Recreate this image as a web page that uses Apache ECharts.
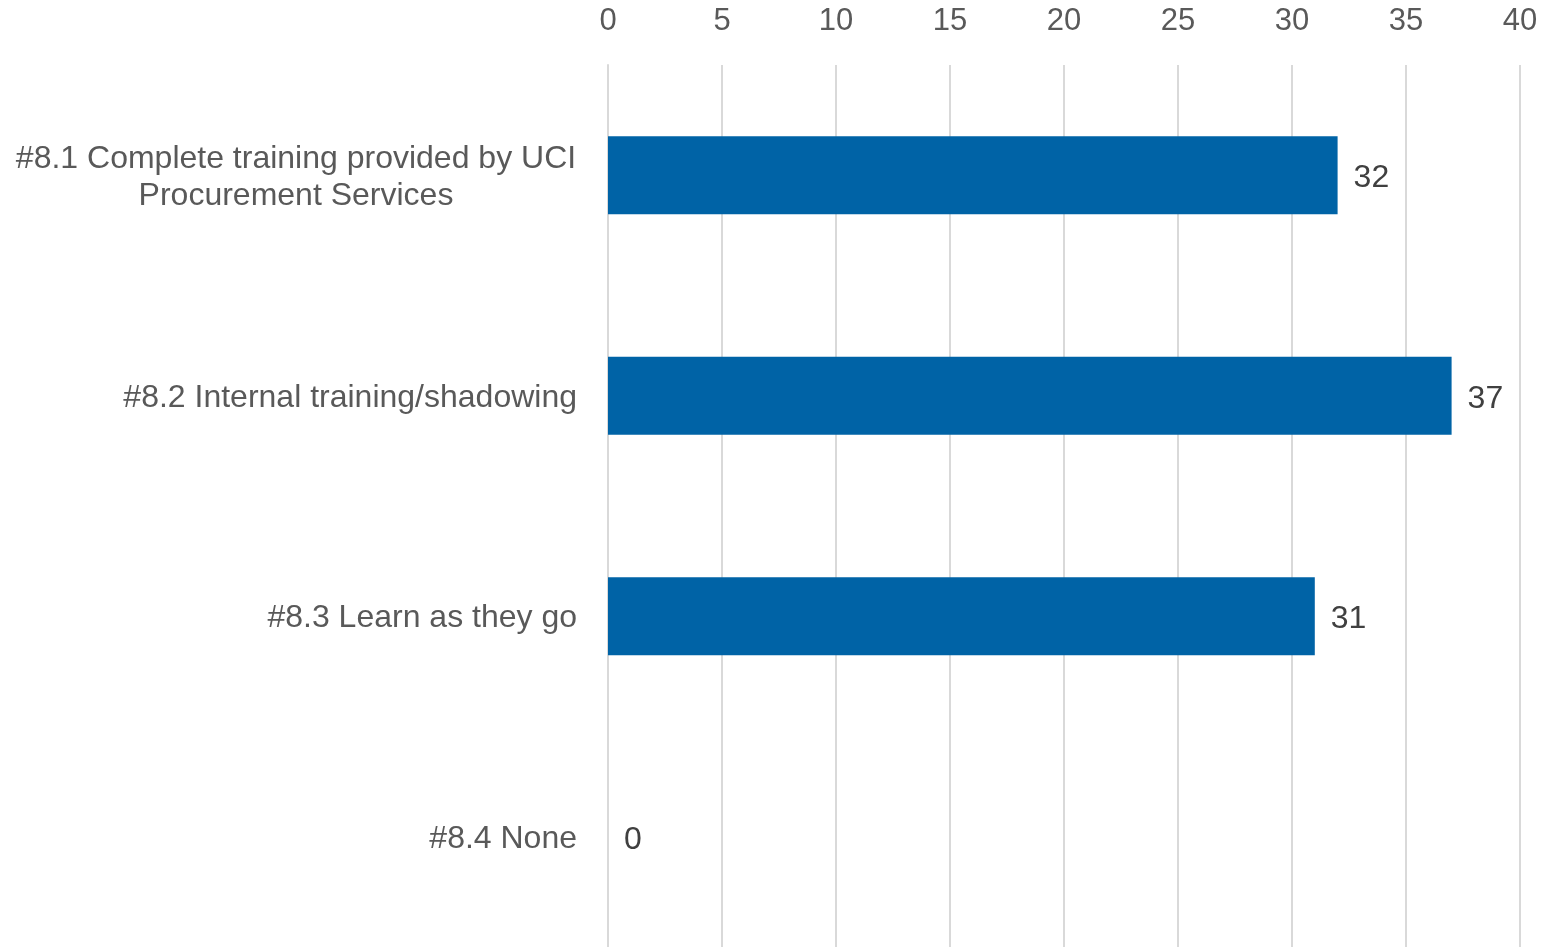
<!DOCTYPE html>
<html><head><meta charset="utf-8">
<script src="https://cdn.jsdelivr.net/npm/echarts@6/dist/echarts.min.js"></script>
<style>html,body{margin:0;padding:0;background:#fff}#c{width:1562px;height:947px}</style>
</head><body><div id="c"></div>
<script>
const categories = ['#8.1 Complete training provided by UCI\nProcurement Services', '#8.2 Internal training/shadowing', '#8.3 Learn as they go', '#8.4 None'];
const values = [32, 37, 31, 0];
const xTicks = {min: 0, max: 40, interval: 5};

const chart = echarts.init(document.getElementById('c'));
chart.setOption({
  animation: false,
  textStyle: {fontFamily: 'Liberation Sans, Arial, sans-serif'},
  grid: {left: 608, right: 42, top: 65, bottom: 0, containLabel: false},
  xAxis: {
    type: 'value', position: 'top', min: xTicks.min, max: xTicks.max, interval: xTicks.interval,
    axisLine: {show: false}, axisTick: {show: false},
    axisLabel: {fontSize: 31, color: '#595959', margin: 28, fontFamily: 'Liberation Sans'},
    splitLine: {show: true, lineStyle: {color: '#D9D9D9', width: 2}}
  },
  yAxis: {
    type: 'category', data: categories, inverse: true,
    axisLine: {show: true, lineStyle: {color: '#D9D9D9', width: 2}}, axisTick: {show: false},
    axisLabel: {
      fontSize: 32, color: '#595959', margin: 31, align: 'right', fontFamily: 'Liberation Sans',
      padding: [4, 0, 0, 0],
      formatter: function (v) {
        if (v.indexOf('\n') >= 0) {
          return v.split('\n').map(s => '{w|' + s + '}').join('\n');
        }
        return v;
      },
      rich: {
        w: {width: 562, align: 'center', fontSize: 32, lineHeight: 37, color: '#595959', fontFamily: 'Liberation Sans'}
      }
    }
  },
  series: [{
    type: 'bar', data: values, barWidth: 78,
    itemStyle: {color: '#0063A6'},
    label: {show: true, position: 'right', distance: 16, offset: [0, 3], fontSize: 32, color: '#404040', fontFamily: 'Liberation Sans'}
  }]
});
</script></body></html>
